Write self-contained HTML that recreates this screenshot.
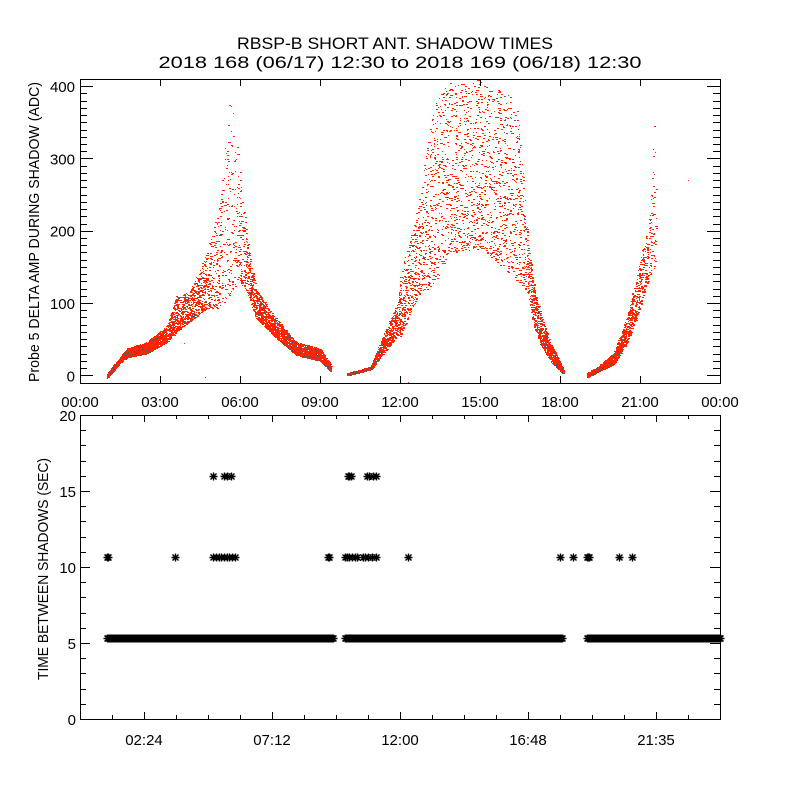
<!DOCTYPE html>
<html><head><meta charset="utf-8"><style>
html,body{margin:0;padding:0;background:#fff;}
svg{display:block;font-family:"Liberation Sans",sans-serif;}
</style></head><body>
<svg id="c" width="800" height="800" viewBox="0 0 800 800">
<rect x="0" y="0" width="800" height="800" fill="#fff"/>
<text x="395" y="49" font-size="17" text-anchor="middle" textLength="316" lengthAdjust="spacingAndGlyphs">RBSP-B SHORT ANT. SHADOW TIMES</text>
<text x="400" y="68" font-size="17" text-anchor="middle" textLength="483" lengthAdjust="spacingAndGlyphs">2018 168 (06/17) 12:30 to 2018 169 (06/18) 12:30</text>
<g id="topPanel"></g>
<g id="botPanel"></g>
</svg>
<script>
// ---- top panel data (envelope of scatter, hours / ADC) ----
const ampTimes = [1.0,1.5,1.75,2.5,3.25,3.6,4.1,4.75,5.25,5.6,6.0,6.25,6.6,7.25,8.1,9.0,9.4,
 10.0,10.9,11.25,11.9,12.0,12.75,13.25,13.9,15.1,16.4,16.8,17.0,17.3,17.7,18.1,
 19.0,19.4,20.0,20.5,20.87,21.37,21.6];
const ampLow  = [-4,18,25,30,46,60,74,93,93,110,130,115,79,55,28,20,5,
 0,8,25,55,55,115,125,170,175,130,115,70,40,17,3,
 -3,5,15,45,80,140,150];
const ampHigh = [2,25,37,46,69,110,115,170,240,400,290,194,120,83,46,37,15,
 3,12,45,100,135,250,380,410,410,380,185,130,80,40,10,
 3,12,30,80,140,220,395];
const ampSeg  = [0,0,0,0,0,0,0,0,0,0,0,0,0,0,0,0,0,
 1,1,1,1,1,1,1,1,1,1,1,1,1,1,1,
 2,2,2,2,2,2,2];
const ampDensity = [800,800,800,800,700,550,550,400,300,250,320,480,650,800,800,800,800,
 650,650,650,550,480,400,380,420,420,380,480,650,800,800,800,
 650,800,800,650,480,320,240];
const ampOutliers = [[22.8,270],[3.9,45],[4.7,-3],[12.3,-10]];

// ---- bottom panel data ----
const bandValue = 5.33;
const bandSegments = [[1.0,9.5],[9.94,18.1],[19.0,24.0]];
const midValue = 10.67;
const midTimes = [1.0,1.05,3.56,5.0,5.1,5.2,5.3,5.4,5.5,5.6,5.7,5.8,9.3,9.35,9.94,10.0,10.1,10.2,10.3,10.4,10.6,10.7,10.8,10.95,11.1,12.3,18.0,18.5,19.0,19.05,19.1,20.2,20.7];
const highValue = 16.0;
const highTimes = [5.0,5.4,5.5,5.65,10.05,10.1,10.15,10.75,10.85,11.0,11.1];
const xLabelsTop = ["00:00","03:00","06:00","09:00","12:00","15:00","18:00","21:00","00:00"];
const xLabelsBot = ["02:24","07:12","12:00","16:48","21:35"];

const NS="http://www.w3.org/2000/svg";
function mk(tag,attrs,parent){const e=document.createElementNS(NS,tag);for(const k in attrs)e.setAttribute(k,attrs[k]);parent.appendChild(e);return e;}
const topG=document.getElementById('topPanel'), botG=document.getElementById('botPanel');

const L=80,R=720;
const tT=79,tB=383, tY0=-10.7, tY1=410;
const bT=415,bB=719, bY0=0,bY1=20;
const xS=h=>L+(R-L)*h/24;
const yT=v=>tB-(v-tY0)/(tY1-tY0)*(tB-tT);
const yB=v=>bB-(v-bY0)/(bY1-bY0)*(bB-bT);

// ---- top panel ----
let seed=12345;
function rnd(){seed=(Math.imul(seed,1103515245)+12345)>>>0;return (seed>>>8)/16777216;}
const dots=mk('g',{},topG);


let path='',dpath='';
for(let i=0;i<ampTimes.length-1;i++){
  if(ampSeg[i]!==ampSeg[i+1])continue;
  const t0=ampTimes[i],t1=ampTimes[i+1];
  const n=Math.round((t1-t0)*(ampDensity[i]+ampDensity[i+1])/2);
  for(let k=0;k<n;k++){
    const f=rnd();
    const t=t0+(t1-t0)*f;
    const lo=ampLow[i]+(ampLow[i+1]-ampLow[i])*f;
    const hi=ampHigh[i]+(ampHigh[i+1]-ampHigh[i])*f;
    const r=rnd();
    const v=lo+(hi-lo)*Math.pow(r,1.3);
    const x=Math.round(xS(t)),y=Math.round(yT(v));
    const w=rnd()<0.6?2:1;
    const s='M'+x+' '+y+'h'+w+'v1h-'+w+'z';
    if(rnd()<0.03)dpath+=s;else path+=s;
  }
}
ampOutliers.forEach(p=>{const x=Math.round(xS(p[0])),y=Math.round(yT(p[1]));path+='M'+x+' '+y+'h1v1h-1z';});
mk('path',{d:path,fill:'#ff2400'},dots);
mk('path',{d:dpath,fill:'#555566'},dots);

const tf=mk('rect',{x:L+0.5,y:tT+0.5,width:R-L,height:tB-tT,fill:'none',stroke:'#000','stroke-width':1},topG);


let tk='';
for(let v=0;v<=400;v+=10){const y=Math.round(yT(v))+0.5;const len=v%100===0?13:7;tk+=`M${L} ${y}h${len}M${R} ${y}h-${len}`;}
for(let h=0;h<=24;h+=3){const x=Math.round(xS(h))+0.5;tk+=`M${x} ${tB}v-7M${x} ${tT}v7`;}
mk('path',{d:tk,stroke:'#000','stroke-width':1,fill:'none'},topG);
[0,100,200,300,400].forEach(v=>{
  const t=mk('text',{x:L-5,y:yT(v)+6,'font-size':15,'text-anchor':'end'},topG);t.textContent=v;
  
  
});
xLabelsTop.forEach((s,i)=>{
  const t=mk('text',{x:xS(i*3),y:407,'font-size':15,'text-anchor':'middle'},topG);t.textContent=s;
  
  
});
const ty=mk('text',{x:0,y:0,'font-size':15,'text-anchor':'middle',textLength:'300',lengthAdjust:'spacingAndGlyphs',transform:'translate(39,232) rotate(-90)'},topG);
ty.textContent='Probe 5 DELTA AMP DURING SHADOW (ADC)';



// ---- bottom panel ----
const stars=mk('g',{stroke:'#000','stroke-width':1.4,fill:'none'},botG);


let sp='';
function star(h,v){const x=Math.round(xS(h))+0.5,y=Math.round(yB(v))+0.5;sp+=`M${x-4} ${y}h8M${x} ${y-4}v8M${x-3} ${y-3}l6 6M${x-3} ${y+3}l6 -6`;}
bandSegments.forEach(s=>{for(let h=s[0];h<=s[1]+1e-9;h+=0.0125)star(h,bandValue);});
midTimes.forEach(h=>star(h,midValue));
highTimes.forEach(h=>star(h,highValue));
mk('path',{d:sp},stars);

const bf=mk('rect',{x:L+0.5,y:bT+0.5,width:R-L,height:bB-bT,fill:'none',stroke:'#000','stroke-width':1},botG);


let bk='';
for(let v=0;v<=20;v++){const y=Math.round(yB(v))+0.5;const len=v%5===0?10:6;bk+=`M${L} ${y}h${len}M${R} ${y}h-${len}`;}
for(let i=0;i<=20;i++){const x=Math.round(xS(i*1.2))+0.5;const len=(i%4===2)?7:4;bk+=`M${x} ${bB}v-${len}M${x} ${bT}v${len}`;}
mk('path',{d:bk,stroke:'#000','stroke-width':1,fill:'none'},botG);
[0,5,10,15,20].forEach(v=>{
  const t=mk('text',{x:L-4,y:yB(v)+6,'font-size':15,'text-anchor':'end'},botG);t.textContent=v;
  
  
});
xLabelsBot.forEach((s,i)=>{
  const t=mk('text',{x:xS(2.4+4.8*i),y:745,'font-size':15,'text-anchor':'middle'},botG);t.textContent=s;
  
  
});
const by=mk('text',{x:0,y:0,'font-size':15,'text-anchor':'middle',textLength:'222',lengthAdjust:'spacingAndGlyphs',transform:'translate(48,569) rotate(-90)'},botG);
by.textContent='TIME BETWEEN SHADOWS (SEC)';


</script>
</body></html>
